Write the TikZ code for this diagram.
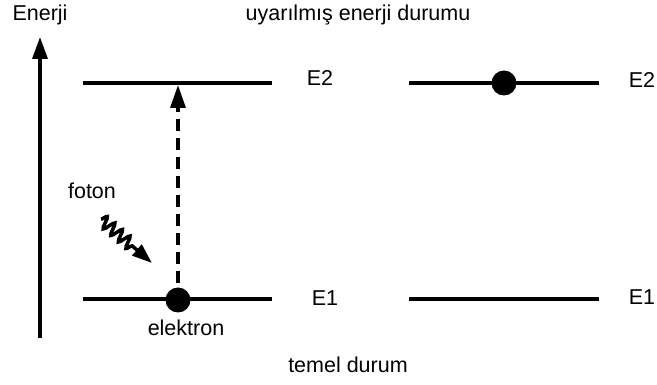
\documentclass[tikz,border=0pt]{standalone}
\usepackage{fontspec}
\setmainfont{Liberation Sans}
\usetikzlibrary{arrows.meta,decorations.pathmorphing}
\begin{document}
\begin{tikzpicture}[x=1pt,y=-1pt,
  level/.style={line width=3.2pt},
  lbl/.style={font=\fontsize{21.5}{25}\selectfont, inner sep=0pt},
  particle/.style={circle,fill=black,minimum size=25pt,inner sep=0pt},
  bigtip/.style={-{Triangle[width=15pt,length=22pt]}},
  dashtip/.style={-{Triangle[width=15pt,length=23pt]}}]
  \useasboundingbox (0,0) rectangle (657,385);

  % energy axis
  \coordinate (axbot) at (40,338);
  \coordinate (axtop) at (40,37);
  \draw[line width=3.4pt,bigtip] (axbot) -- (axtop);
  \node[lbl] (enerji) at (40,15) {Enerji};

  % titles
  \node[lbl] (exc) at (358,15) {uyarılmış enerji durumu};
  \node[lbl] (ground) at (348,365) {temel durum};

  % left levels
  \coordinate (l2a) at (83,83);  \coordinate (l2b) at (272,83);
  \coordinate (l1a) at (83,299); \coordinate (l1b) at (272,299);
  \draw[level] (l2a) -- (l2b);
  \draw[level] (l1a) -- (l1b);
  \node[lbl] (le2) at (320,78) {E2};
  \node[lbl] (le1) at (325,298) {E1};

  % right levels
  \coordinate (r2a) at (409,83);  \coordinate (r2b) at (599,83);
  \coordinate (r1a) at (409,299); \coordinate (r1b) at (599,299);
  \draw[level] (r2a) -- (r2b);
  \draw[level] (r1a) -- (r1b);
  \node[lbl] (re2) at (642,80) {E2};
  \node[lbl] (re1) at (642,297) {E1};

  % electrons
  \node[particle] (el) at (178,300) {};
  \node[particle] (eh) at (504,83) {};
  \node[lbl] (elabel) at (186,328) {elektron};

  % excitation
  \coordinate (uptip) at (178,85);
  \draw[line width=3.4pt,dash pattern=on 12pt off 7pt,dashtip]
    (el.north) ++(0,-4) -- (uptip);

  % photon
  \node[lbl] (foton) at (92,191) {foton};
  \coordinate (ph0) at (101,219);
  \coordinate (ph1) at (152,263);
  \draw[line width=3.5pt,-{Triangle[width=14pt,length=20pt]},
    decorate,decoration={snake,amplitude=6pt,segment length=10pt,post length=22pt}]
    (ph0) -- (ph1);
\end{tikzpicture}
\end{document}
